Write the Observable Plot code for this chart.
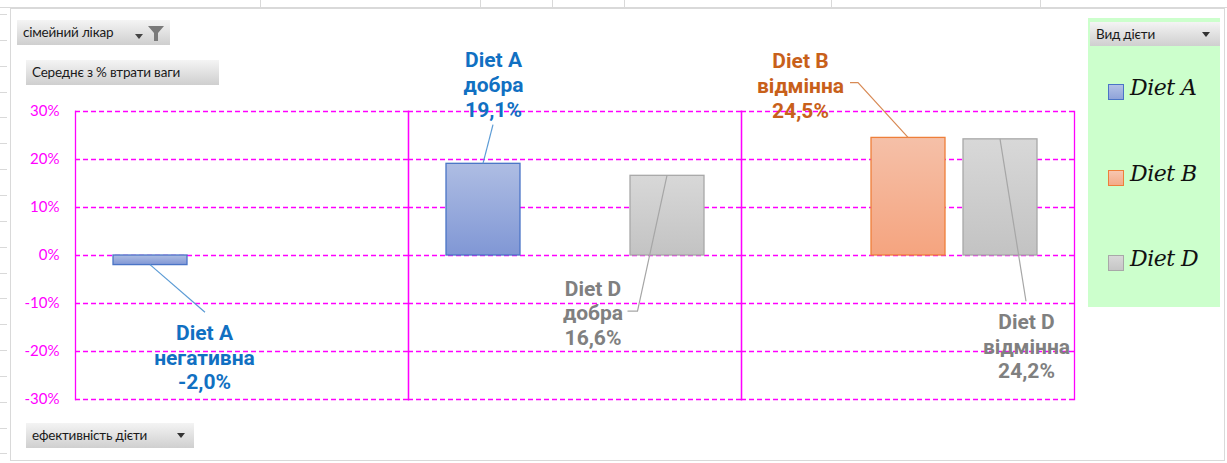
<!DOCTYPE html>
<html>
<head>
<meta charset="utf-8">
<script src="https://cdn.jsdelivr.net/npm/d3@7"></script>
<script src="https://cdn.jsdelivr.net/npm/@observablehq/plot@0.6"></script>
<style>
  html, body { margin: 0; padding: 0; background: #fff; }
  #wrap { position: relative; width: 1227px; height: 463px; overflow: hidden; font-family: Lato, "Liberation Sans", sans-serif; }
  #wrap svg.plot { position: absolute; left: 0; top: 0; }
  .btn { position: absolute; height: 25px; line-height: 25px; font-size: 13.5px; color: #1a1a1a;
         background: linear-gradient(#f4f4f4, #cfcfcf); box-sizing: border-box; padding-left: 6px; white-space: nowrap; letter-spacing: -0.2px; }
  .arrow { position: absolute; width: 0; height: 0; border-left: 4px solid transparent; border-right: 4px solid transparent; border-top: 5px solid #333; }
  .deco { position: absolute; background: #d9d9d9; }
  #legend { position: absolute; left: 1088px; top: 18px; width: 132px; height: 289px; background: #ccffcc; }
  .litem { position: absolute; left: 20px; height: 30px; }
  .lsw { position: absolute; left: 0; top: 7px; width: 14px; height: 14px; border: 1.5px solid; }
  .ltx { position: absolute; left: 22px; top: -2px; font-size: 22px; font-style: italic; font-family: "DejaVu Serif", serif; color: #111; white-space: nowrap; letter-spacing: -0.5px; }
</style>
</head>
<body>
<div id="wrap"></div>
<script>
// ---- data ----
const categories = ["негативна", "добра", "відмінна"];
const series = ["Diet A", "Diet B", "Diet D"];
const barCategory = ["негативна", "добра", "добра", "відмінна", "відмінна"];
const barSeries = ["Diet A", "Diet A", "Diet D", "Diet B", "Diet D"];
const barValue = [-2.0, 19.1, 16.6, 24.5, 24.2];
const yTicks = [-30, -20, -10, 0, 10, 20, 30];
const legendTitle = "Вид дієти";
const filterLabel = "сімейний лікар";
const valueLabel = "Середнє з % втрати ваги";
const axisFieldLabel = "ефективність дієти";

// ---- styles ----
const fillOf = {"Diet A": "url(#gA)", "Diet B": "url(#gB)", "Diet D": "url(#gD)"};
const strokeOf = {"Diet A": "#4a74c6", "Diet B": "#ee7f3a", "Diet D": "#a8a8a8"};
const labelColor = {"Diet A": "#1170c2", "Diet B": "#c8601a", "Diet D": "#808080"};
const leaderColor = {"Diet A": "#5b9bd5", "Diet B": "#d88a55", "Diet D": "#a6a6a6"};
const magenta = "#ff00ff";

// label layout (pixel offsets / label y in axis units), one per bar
const labelLayout = [
  {dx: 54, ly: -21.1, ex: 1, ey: -44, hx: null},
  {dx: 10, ly: 35.7, ex: 0, ey: 41, hx: null},
  {dx: -74.5, ly: -11.9, ex: 45, ey: -1, hx: 35},
  {dx: -108, ly: 35.5, ex: 58, ey: -2, hx: 50},
  {dx: 26, ly: -18.8, ex: 0, ey: -44, hx: null}
];

const idx = barValue.map((_, i) => i);
const fmt = v => v.toFixed(1).replace(".", ",") + "%";

const marks = [
  Plot.ruleY(yTicks, {stroke: magenta, strokeWidth: 1.3, strokeDasharray: "5,3"}),
  Plot.frame({anchor: "left", stroke: magenta, strokeWidth: 1.3}),
  Plot.frame({anchor: "right", stroke: magenta, strokeWidth: 1.3}),
  ...series.map(s => Plot.barY(idx.filter(i => barSeries[i] === s), {
    fx: i => barCategory[i], x: i => barSeries[i], y: i => barValue[i],
    fill: fillOf[s], stroke: strokeOf[s], strokeWidth: 1.3
  })),
  ...labelLayout.map((L, i) => Plot.text([i], {
    fx: i => barCategory[i], x: i => barSeries[i], y: () => L.ly,
    text: i => `${barSeries[i]}\n${barCategory[i]}\n${fmt(barValue[i])}`,
    dx: L.dx, fill: labelColor[barSeries[i]], fontSize: 21, fontWeight: "bold",
    fontFamily: "Roboto", lineHeight: 1.17, textAnchor: "middle", lineAnchor: "middle"
  }))
];

const plot = Plot.plot({
  width: 1227, height: 463,
  marginLeft: 75, marginRight: 153, marginTop: 111, marginBottom: 64,
  style: {background: "none", color: magenta, fontFamily: "Lato", fontSize: "15px"},
  fx: {domain: categories, padding: 0, axis: null},
  x: {domain: series, paddingInner: 0.2, paddingOuter: 0.4, axis: null},
  y: {domain: [-30, 30], ticks: 6, tickSize: 0, tickPadding: 16, tickFormat: d => d + "%", label: null},
  marks
});
plot.classList.add("plot");

d3.select(plot).insert("defs", ":first-child").html(`
  <linearGradient id="gA" x1="0" y1="0" x2="0" y2="1"><stop offset="0" stop-color="#aebde3"/><stop offset="1" stop-color="#8097d5"/></linearGradient>
  <linearGradient id="gB" x1="0" y1="0" x2="0" y2="1"><stop offset="0" stop-color="#f5c0a8"/><stop offset="1" stop-color="#f5a47f"/></linearGradient>
  <linearGradient id="gD" x1="0" y1="0" x2="0" y2="1"><stop offset="0" stop-color="#d8d8d8"/><stop offset="1" stop-color="#c3c3c3"/></linearGradient>
`);

// leader lines through plot scales
const fxS = plot.scale("fx"), xS = plot.scale("x"), yS = plot.scale("y");
const leaders = d3.select(plot).append("g").attr("fill", "none").attr("stroke-width", 1.2);
idx.forEach(i => {
  const L = labelLayout[i];
  const px = fxS.apply(barCategory[i]) + (xS.apply(barSeries[i]) - xS.range[0]) + xS.bandwidth / 2;
  const py = yS.apply(barValue[i]);
  const lx = px + L.dx, ly = yS.apply(L.ly);
  const pts = [[px, py], [lx + L.ex, ly + L.ey]];
  if (L.hx != null) pts.push([lx + L.hx, ly + L.ey]);
  leaders.append("path").attr("d", d3.line()(pts)).attr("stroke", leaderColor[barSeries[i]]);
});

const wrap = document.getElementById("wrap");
// spreadsheet decoration
const deco = (l, t, w, h) => { const d = document.createElement("div"); d.className = "deco"; Object.assign(d.style, {left: l + "px", top: t + "px", width: w + "px", height: h + "px"}); wrap.appendChild(d); };
[260, 480, 552, 624, 831, 1040].forEach(x => deco(x, 0, 1, 8));
deco(0, 7, 1227, 1);
for (let y = 14; y < 463; y += 25.85) deco(0, Math.round(y), 7, 1);
wrap.appendChild(plot);
// chart border
const border = document.createElement("div");
Object.assign(border.style, {position: "absolute", left: "10px", top: "8px", width: "1215px", height: "453px", border: "1px solid #d9d9d9", boxSizing: "border-box"});
wrap.appendChild(border);

function btn(text, l, t, w) {
  const b = document.createElement("div"); b.className = "btn"; b.textContent = text;
  Object.assign(b.style, {left: l + "px", top: t + "px", width: w + "px"}); wrap.appendChild(b); return b;
}
const fb = btn(filterLabel, 17, 20, 153);
fb.insertAdjacentHTML("beforeend", `<div class="arrow" style="left:118px;top:14px;border-top-color:#444"></div>
  <svg style="position:absolute;left:130px;top:4px" width="18" height="18"><path d="M1,2 H17 L11,9 V17 H7 V9 Z" fill="#7a7a7a"/></svg>`);
btn(valueLabel, 26, 60, 193);
const ab = btn(axisFieldLabel, 26, 423, 168);
ab.insertAdjacentHTML("beforeend", `<div class="arrow" style="left:151px;top:10px"></div>`);

const lg = document.createElement("div"); lg.id = "legend"; wrap.appendChild(lg);
const lh = document.createElement("div"); lh.className = "btn"; lh.textContent = legendTitle;
Object.assign(lh.style, {left: "2px", top: "4px", width: "130px", height: "24px", lineHeight: "24px"});
lh.insertAdjacentHTML("beforeend", `<div class="arrow" style="left:112px;top:10px"></div>`);
lg.appendChild(lh);
const swFill = {"Diet A": "linear-gradient(#b3c1e6,#8fa3d9)", "Diet B": "linear-gradient(#f7c6b0,#f4ab88)", "Diet D": "linear-gradient(#d8d8d8,#c6c6c6)"};
const legendY = [59, 145, 230];
series.forEach((s, k) => {
  const it = document.createElement("div"); it.className = "litem"; it.style.top = legendY[k] + "px";
  it.innerHTML = `<div class="lsw" style="background:${swFill[s]};border-color:${strokeOf[s]}"></div><div class="ltx">${s}</div>`;
  lg.appendChild(it);
});
</script>
</body>
</html>
